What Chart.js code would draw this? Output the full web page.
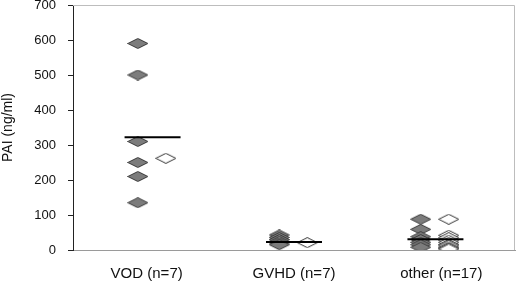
<!DOCTYPE html>
<html>
<head>
<meta charset="utf-8">
<script src="https://cdn.jsdelivr.net/npm/chart.js@4/dist/chart.umd.min.js"></script>
<style>
  html, body { margin: 0; padding: 0; background: #fff; }
  #wrap { width: 520px; height: 285px; }
</style>
</head>
<body>
<div id="wrap"><canvas id="chart"></canvas></div>
<script>
// data
const groups = ["VOD (n=7)", "GVHD (n=7)", "other (n=17)"];
const filledValues = [
  [590, 500, 310, 250, 210, 135],
  [43, 36, 30, 25, 20, 15],
  [88, 59, 38, 30, 22, 15, 8]
];
const openValues = [
  [262],
  [21],
  [88, 42, 35, 28, 22, 16, 12, 8, 5, 3]
];
const medians = [322, 23, 31];
const yTicks = [0, 100, 200, 300, 400, 500, 600, 700];

// horizontal placement inside each group
const filledShift = -0.1;
const openShift = 0.09;
const groupNudge = [0.04, 0, -0.04];
const medianHalf = 0.19;

// flattened diamond marker
function diamond(fill, stroke) {
  const c = document.createElement("canvas");
  c.width = 21;
  c.height = 11;
  const g = c.getContext("2d");
  g.beginPath();
  g.moveTo(10.5, 0.5);
  g.lineTo(20.5, 5.5);
  g.lineTo(10.5, 10.5);
  g.lineTo(0.5, 5.5);
  g.closePath();
  g.fillStyle = fill;
  g.fill();
  g.strokeStyle = stroke;
  g.lineWidth = 1;
  g.stroke();
  return c;
}
const filledMark = diamond("#7c7c7c", "#3a3a3a");
const openMark = diamond("#ffffff", "#333333");

const center = i => i + 0.5 + groupNudge[i];

const filledPoints = [];
const openPoints = [];
groups.forEach((_, i) => {
  filledValues[i].forEach(v => filledPoints.push({ x: center(i) + filledShift, y: v }));
  openValues[i].forEach(v => openPoints.push({ x: center(i) + openShift, y: v }));
});

const datasets = [
  {
    label: "filled",
    data: filledPoints,
    pointStyle: filledMark,
    order: 2
  },
  {
    label: "open",
    data: openPoints,
    pointStyle: openMark,
    order: 1
  }
];
medians.forEach((m, i) => {
  datasets.push({
    type: "line",
    label: "median " + groups[i],
    data: [{ x: center(i) - medianHalf, y: m }, { x: center(i) + medianHalf, y: m }],
    borderColor: "#000",
    borderWidth: 2,
    pointRadius: 0,
    order: 0
  });
});

// light frame round the plot area
const framePlugin = {
  id: "frame",
  beforeDatasetsDraw(chart) {
    const { ctx, chartArea: a } = chart;
    ctx.save();
    ctx.strokeStyle = "#bdbdbd";
    ctx.lineWidth = 1;
    ctx.beginPath();
    ctx.moveTo(a.left, a.top + 0.5);
    ctx.lineTo(a.right - 0.5, a.top + 0.5);
    ctx.lineTo(a.right - 0.5, a.bottom);
    ctx.stroke();
    ctx.restore();
  }
};

new Chart(document.getElementById("chart"), {
  type: "scatter",
  data: { datasets },
  plugins: [framePlugin],
  options: {
    responsive: true,
    maintainAspectRatio: false,
    animation: false,
    layout: { padding: { top: 5, right: 3, left: 0, bottom: 0 } },
    plugins: {
      legend: { display: false },
      tooltip: { enabled: false }
    },
    scales: {
      x: {
        type: "linear",
        min: 0,
        max: groups.length,
        afterBuildTicks: scale => {
          scale.ticks = groups.map((_, i) => ({ value: i + 0.5 }));
        },
        afterFit: scale => {
          scale.height = 35;
          scale.paddingLeft = 0;
          scale.paddingRight = 0;
        },
        grid: { display: false, drawTicks: false },
        border: { display: true, color: "#9a9a9a", width: 1 },
        ticks: {
          autoSkip: false,
          maxRotation: 0,
          padding: 15,
          color: "#111",
          font: { family: "'Liberation Sans', Arial, sans-serif", size: 15 },
          callback: (v, i) => groups[i]
        }
      },
      y: {
        min: 0,
        max: 700,
        afterBuildTicks: scale => {
          scale.ticks = yTicks.map(v => ({ value: v }));
        },
        afterFit: scale => {
          scale.width = 73;
          scale.paddingTop = 0;
          scale.paddingBottom = 0;
        },
        grid: { drawOnChartArea: false, drawTicks: true, tickLength: 5, color: "#222" },
        border: { display: true, color: "#222", width: 1 },
        ticks: {
          padding: 12,
          color: "#111",
          font: { family: "'Liberation Sans', Arial, sans-serif", size: 13 }
        },
        title: {
          display: true,
          text: "PAI (ng/ml)",
          color: "#111",
          padding: { top: 0, bottom: 0 },
          font: { family: "'Liberation Sans', Arial, sans-serif", size: 14 }
        }
      }
    }
  }
});
</script>
</body>
</html>
